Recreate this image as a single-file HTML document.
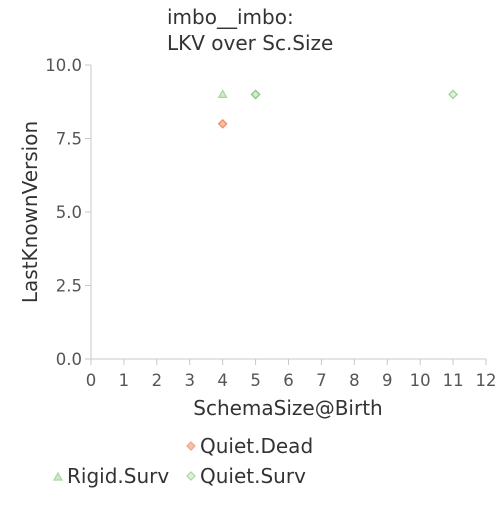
<!DOCTYPE html>
<html><head><meta charset="utf-8"><style>
body{margin:0;background:#fff;}
svg text{font-family:"DejaVu Sans","Liberation Sans",sans-serif;}
</style></head><body>
<svg id="chart" width="500" height="500" xmlns="http://www.w3.org/2000/svg">
<text x="167" y="24" font-size="20" fill="#333">imbo__imbo:</text>
<text x="167" y="50" font-size="20" fill="#333">LKV over Sc.Size</text>
<g id="axes"></g>
<g id="marks"></g>
<text x="288" y="415" font-size="20" fill="#333" text-anchor="middle">SchemaSize@Birth</text>
<text transform="translate(37,212) rotate(-90)" font-size="20" fill="#333" text-anchor="middle">LastKnownVersion</text>
<g>
<path d="M191,442 l4,4 -4,4 -4,-4z" fill="#f8c0a8" stroke="#f4a08a" stroke-width="1.2"/>
<text x="200" y="453" font-size="20" fill="#333">Quiet.Dead</text></g>
<g>
<path d="M58,473 l4,7 h-8z" fill="#cfe8c8" stroke="#a8d8a0" stroke-width="1.2"/>
<text x="67" y="483" font-size="20" fill="#333">Rigid.Surv</text></g>
<g>
<path d="M191,472 l4,4 -4,4 -4,-4z" fill="#e0f0da" stroke="#a8d8a0" stroke-width="1.2"/>
<text x="200" y="483" font-size="20" fill="#333">Quiet.Surv</text></g>
</svg>
<script>
const xTicks=[0,1,2,3,4,5,6,7,8,9,10,11,12];
const yTicks=[0,2.5,5,7.5,10];
const yTickLabels=["0.0","2.5","5.0","7.5","10.0"];
const quietDeadX=[4];
const quietDeadY=[8];
const rigidSurvX=[4];
const rigidSurvY=[9];
const quietSurvX=[5,5,11];
const quietSurvY=[9,9,9];
const NS="http://www.w3.org/2000/svg";
const X0=91,X1=486,Y0=359,Y1=65;
function sx(v){return X0+(X1-X0)*v/12;}
function sy(v){return Y0-(Y0-Y1)*v/10;}
const axes=document.getElementById('axes'),marks=document.getElementById('marks');
function mk(tag,attrs,parent){const e=document.createElementNS(NS,tag);for(const k in attrs)e.setAttribute(k,attrs[k]);parent.appendChild(e);return e;}
const xl=mk('line',{x1:X0,y1:Y0,x2:X1,y2:Y0,stroke:'#c8c8c8'},axes);


const yl=mk('line',{x1:X0,y1:Y0,x2:X0,y2:Y1,stroke:'#c8c8c8'},axes);


xTicks.forEach(t=>{
 mk('line',{x1:sx(t),y1:Y0,x2:sx(t),y2:Y0+6,stroke:'#c8c8c8'},axes);
 const tx=mk('text',{x:sx(t),y:Y0+27,'font-size':16.5,fill:'#555','text-anchor':'middle'},axes);
 tx.textContent=t;
 
 
});
yTicks.forEach((t,i)=>{
 mk('line',{x1:X0-6,y1:sy(t),x2:X0,y2:sy(t),stroke:'#c8c8c8'},axes);
 const tx=mk('text',{x:X0-9,y:sy(t)+6,'font-size':16.5,fill:'#555','text-anchor':'end'},axes);
 tx.textContent=yTickLabels[i];
 
 
});
function diamond(x,y,fill,stroke,name){
 const p=mk('path',{d:`M${sx(x)},${sy(y)-4} l4,4 -4,4 -4,-4z`,fill:fill,stroke:stroke,'stroke-width':1.3,'fill-opacity':0.6,'stroke-opacity':0.7},marks);
 
 
}
rigidSurvX.forEach((x,i)=>{
 const p=mk('path',{d:`M${sx(x)},${sy(rigidSurvY[i])-4} l4,7 h-8z`,fill:'#cfe8c8',stroke:'#a8d8a0','stroke-width':1.2},marks);
 
 
});
quietSurvX.forEach((x,i)=>diamond(x,quietSurvY[i],'#cfe8c8','#7cc070','quiet-surv-point'));
quietDeadX.forEach((x,i)=>diamond(x,quietDeadY[i],'#f8a040','#f06050','quiet-dead-point'));
</script>
</body></html>
